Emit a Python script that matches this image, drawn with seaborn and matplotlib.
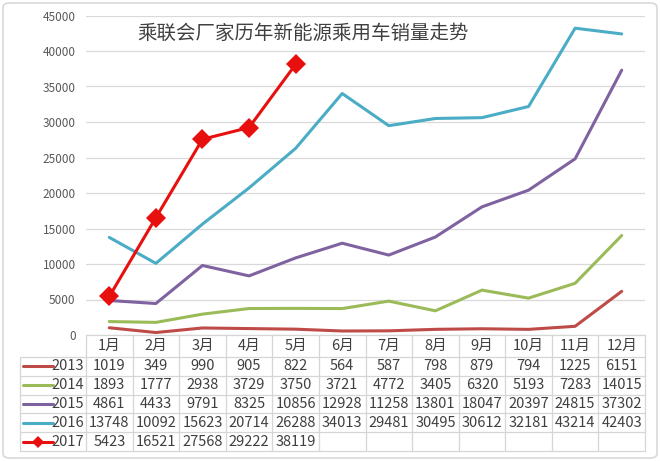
import matplotlib
matplotlib.use('Agg')
import matplotlib.pyplot as plt
import seaborn as sns
import pandas as pd
from matplotlib.patches import FancyBboxPatch
from matplotlib.lines import Line2D

months = ['1月', '2月', '3月', '4月', '5月', '6月', '7月', '8月', '9月', '10月', '11月', '12月']
years = ['2013', '2014', '2015', '2016', '2017']
s2013 = [1019, 349, 990, 905, 822, 564, 587, 798, 879, 794, 1225, 6151]
s2014 = [1893, 1777, 2938, 3729, 3750, 3721, 4772, 3405, 6320, 5193, 7283, 14015]
s2015 = [4861, 4433, 9791, 8325, 10856, 12928, 11258, 13801, 18047, 20397, 24815, 37302]
s2016 = [13748, 10092, 15623, 20714, 26288, 34013, 29481, 30495, 30612, 32181, 43214, 42403]
s2017 = [5423, 16521, 27568, 29222, 38119]
title = '乘联会厂家历年新能源乘用车销量走势'
yticks = [0, 5000, 10000, 15000, 20000, 25000, 30000, 35000, 40000, 45000]

series = {'2013': s2013, '2014': s2014, '2015': s2015, '2016': s2016, '2017': s2017}
colors = {'2013': '#BE4B48', '2014': '#9BBB59', '2015': '#7F62A0', '2016': '#4BACC6', '2017': '#E8100F'}

rows = []
for y in years:
    for i, v in enumerate(series[y]):
        rows.append({'month': i, 'year': y, 'value': v})
df = pd.DataFrame(rows)

sns.set_theme(style='white')
plt.rcParams['font.family'] = ['Noto Sans CJK SC', 'DejaVu Sans']

W, H = 660, 461
fig = plt.figure(figsize=(W / 100, H / 100), dpi=100)
fig.patch.set_facecolor('white')
ax_left, ax_right, ax_bottom, ax_top = 86, 645, 335, 15.5
ax = fig.add_axes([ax_left / W, 1 - ax_bottom / H, (ax_right - ax_left) / W, (ax_bottom - ax_top) / H])

old = df[df['year'] != '2017']
sns.lineplot(data=old, x='month', y='value', hue='year',
             palette={k: colors[k] for k in years[:4]}, linewidth=2.2,
             legend=False, ax=ax, zorder=3)
sns.lineplot(data=df[df['year'] == '2017'], x='month', y='value', color=colors['2017'],
             linewidth=2.2, marker='D', markersize=10, markeredgewidth=0,
             legend=False, ax=ax, zorder=4)

ax.set_xlim(-0.5, len(months) - 0.5)
ax.set_ylim(0, 45000)
ax.set_yticks(yticks)
ax.set_yticklabels([str(t) for t in yticks], fontsize=8.5, color='#595959')
ax.set_xticks([])
ax.tick_params(axis='y', length=0, pad=7.5)
ax.set_xlabel('')
ax.set_ylabel('')
for s in ax.spines.values():
    s.set_visible(False)
ax.yaxis.grid(True, color='#D9D9D9', linewidth=0.9)
ax.set_axisbelow(True)

ax.text(0.388, 0.945, title, transform=ax.transAxes, ha='center', va='center',
        fontsize=14, color='#404040')

# data table below the plot
colw = (ax_right - ax_left) / len(months)
axh = ax_bottom - ax_top
trans = ax.get_xaxis_transform()

def px2x(px):
    return (px - ax_left) / colw - 0.5

def py2y(py):
    return (ax_bottom - py) / axh

grid_c = '#D6D6D6'
hdr_top, hdr_bot = 335, 357
row_h = (451 - 357) / 5
row_lines = [hdr_bot + k * row_h for k in range(6)]
tab_left = px2x(20)

def hline(x0, x1, py):
    ax.add_line(Line2D([x0, x1], [py2y(py)] * 2, transform=trans, color=grid_c,
                       lw=0.9, clip_on=False, zorder=1))

def vline(x, py0, py1):
    ax.add_line(Line2D([x, x], [py2y(py0), py2y(py1)], transform=trans, color=grid_c,
                       lw=0.9, clip_on=False, zorder=1))

hline(-0.5, len(months) - 0.5, hdr_top)
for py in row_lines:
    hline(tab_left, len(months) - 0.5, py)
for k in range(len(months) + 1):
    vline(k - 0.5, hdr_top, row_lines[-1])
vline(tab_left, hdr_bot, row_lines[-1])

txt_c = '#404040'
fs = 10.5
for i, m in enumerate(months):
    ax.text(i, py2y((hdr_top + hdr_bot) / 2), m, transform=trans, ha='center', va='center',
            fontsize=fs, color=txt_c, clip_on=False)

for r, y in enumerate(years):
    cy = py2y(row_lines[r] + row_h / 2)
    for i, v in enumerate(series[y]):
        ax.text(i, cy, str(v), transform=trans, ha='center', va='center',
                fontsize=fs, color=txt_c, clip_on=False)
    ax.text(px2x(84), cy, y, transform=trans, ha='right', va='center',
            fontsize=fs, color=txt_c, clip_on=False)
    ax.add_line(Line2D([px2x(23), px2x(53)], [cy, cy], transform=trans, color=colors[y],
                       lw=2.2, clip_on=False))
    if y == '2017':
        ax.add_line(Line2D([px2x(38)], [cy], transform=trans, color=colors[y], marker='D',
                           markersize=6.5, markeredgewidth=0, linestyle='none', clip_on=False))

# outer rounded frame
frame = FancyBboxPatch((3 / W, 3 / H), 1 - 6 / W, 1 - 6 / H,
                       boxstyle='round,pad=0,rounding_size=0.01', transform=fig.transFigure,
                       facecolor='none', edgecolor='#D9D9D9', linewidth=1.2)
fig.patches.append(frame)

fig.savefig('out.png', dpi=100, facecolor='white')
